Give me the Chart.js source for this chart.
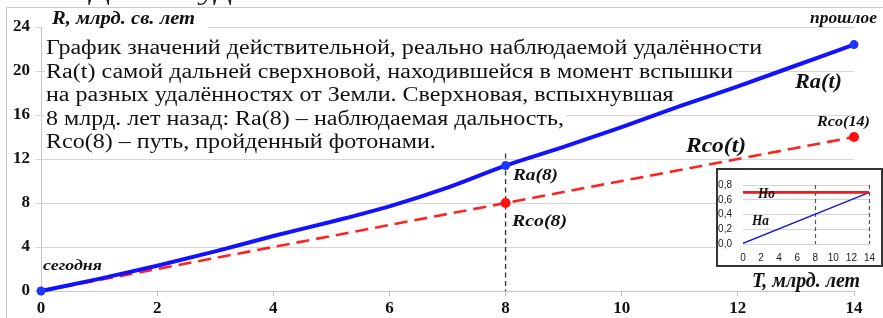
<!DOCTYPE html>
<html><head><meta charset="utf-8">
<script src="https://cdn.jsdelivr.net/npm/chart.js@4.4.1/dist/chart.umd.min.js"></script>
<style>
html,body{margin:0;padding:0;background:#fff;overflow:hidden}
#wrap{position:relative;width:883px;height:318px}
#main{position:absolute;left:0;top:0}
#inset{position:absolute;left:716px;top:168px}
</style></head><body>
<div id="wrap"><canvas id="main" width="883" height="318"></canvas><canvas id="inset" width="167" height="99"></canvas></div>
<script>
// ---- data ----
const years = [0,1,2,3,4,5,6,7,8,9,10,11,12,13,14];
const raValues = [0,1.1,2.3,3.6,5.0,6.3,7.7,9.4,11.4,13.1,14.9,16.8,18.6,20.5,22.4];
const rcoValues = [0,1,2,3,4,5,6,7,8,9,10,11,12,13,14];
const raMarkedYears = [0,8,14];
const rcoMarkedYears = [8,14];
const flashYear = 8;
const xTickValues = [0,2,4,6,8,10,12,14];
const yTickValues = [0,4,8,12,16,20,24];
const insetT = [0,14];
const insetHo = [0.7,0.7];
const insetHa = [0.01,0.7];
const insetXTicks = [0,2,4,6,8,10,12,14];
const insetYTicks = [0,0.2,0.4,0.6,0.8];
const insetDashedYears = [8,14];
const descriptionLines = [
  "График значений действительной, реально наблюдаемой удалённости",
  "Ra(t) самой дальней сверхновой, находившейся в момент вспышки",
  "на разных удалённостях от Земли. Сверхновая, вспыхнувшая",
  "8 млрд. лет назад: Ra(8) – наблюдаемая дальность,",
  "Rco(8) – путь, пройденный фотонами."
];

const serif = '"Liberation Serif","Times New Roman",serif';
const sans = '"Liberation Sans","Open Sans",sans-serif';
const ink = '#111';

function fitText(ctx, str, x, y, font, w, color) {
  ctx.save();
  ctx.font = font; ctx.fillStyle = color || ink;
  ctx.textAlign = 'left'; ctx.textBaseline = 'alphabetic';
  const m = ctx.measureText(str).width;
  ctx.translate(x, y);
  if (w) ctx.scale(w / m, 1);
  ctx.fillText(str, 0, 0);
  ctx.restore();
}

const mainDecor = {
  id: 'mainDecor',
  beforeDraw(chart) {
    const ctx = chart.ctx;
    ctx.save();
    ctx.fillStyle = '#fff';
    ctx.fillRect(0, 0, chart.width, chart.height);
    ctx.strokeStyle = '#c9c9c9'; ctx.lineWidth = 1;
    ctx.beginPath();
    ctx.moveTo(6.5, 318); ctx.lineTo(6.5, 7.5); ctx.lineTo(883, 7.5);
    ctx.stroke();
    ctx.restore();
    // cropped text fragments at the very top (line above the picture)
    fitText(ctx, 'Д', 88, 0, '26px ' + serif, 22, '#222');
    fitText(ctx, 'уд', 197, 0, '26px ' + serif, 35, '#222');
  },
  beforeDatasetsDraw(chart) {
    const ctx = chart.ctx;
    const xs = chart.scales.x, ys = chart.scales.y;
    ctx.save();
    ctx.font = '20px ' + serif;
    const k = 716 / ctx.measureText(descriptionLines[0]).width;
    descriptionLines.forEach((line, i) => {
      const base = 54 + i * 23.5;
      const w = ctx.measureText(line).width * k;
      ctx.fillStyle = '#fff';
      ctx.fillRect(45, base - 16, w + 3, 22);
      ctx.save(); ctx.translate(46, base); ctx.scale(k, 1);
      ctx.fillStyle = ink; ctx.fillText(line, 0, 0); ctx.restore();
    });
    ctx.fillStyle = '#fff';
    ctx.fillRect(43, 12, 165, 17);
    ctx.restore();
    fitText(ctx, 'R, млрд. св. лет', 52, 24, 'bold italic 18px ' + serif, 143);
    const xp = xs.getPixelForValue(flashYear);
    ctx.save();
    ctx.strokeStyle = '#3a3a3a'; ctx.lineWidth = 1.4; ctx.setLineDash([5, 3.5]);
    ctx.beginPath();
    ctx.moveTo(xp, ys.getPixelForValue(12.5)); ctx.lineTo(xp, ys.getPixelForValue(0));
    ctx.stroke();
    ctx.restore();
  },
  afterDatasetsDraw(chart) {
    const ctx = chart.ctx;
    fitText(ctx, 'прошлое', 810, 23, 'bold italic 17px ' + serif, 67);
    fitText(ctx, 'Ra(t)', 795, 88, 'bold italic 22px ' + serif, 47);
    fitText(ctx, 'Rco(14)', 817, 126, 'bold italic 15px ' + serif, 53);
    fitText(ctx, 'Rco(t)', 686, 152, 'bold italic 22px ' + serif, 60);
    fitText(ctx, 'Ra(8)', 513, 180, 'bold italic 17px ' + serif, 45);
    fitText(ctx, 'Rco(8)', 512, 226, 'bold italic 17px ' + serif, 55);
    fitText(ctx, 'сегодня', 43, 270, 'bold italic 15px ' + serif, 59);
    fitText(ctx, 'T, млрд. лет', 752, 287, 'bold italic 21px ' + serif, 108);
  }
};

new Chart(document.getElementById('main'), {
  type: 'line',
  data: {
    datasets: [
      {
        label: 'Ra(t)',
        data: years.map((t, i) => ({ x: t, y: raValues[i] })),
        borderColor: '#1212ff', borderWidth: 4,
        cubicInterpolationMode: 'monotone', clip: false,
        pointRadius: c => raMarkedYears.includes(years[c.dataIndex]) ? 4.5 : 0,
        pointBackgroundColor: '#1a38ff', pointBorderWidth: 0, pointHoverRadius: 0
      },
      {
        label: 'Rco(t)',
        data: years.map((t, i) => ({ x: t, y: rcoValues[i] })),
        borderColor: '#ff2222', borderWidth: 2.6, borderDash: [13, 7], clip: false,
        pointRadius: c => rcoMarkedYears.includes(years[c.dataIndex]) ? 5 : 0,
        pointBackgroundColor: '#ff0f0f', pointBorderWidth: 0, pointHoverRadius: 0
      }
    ]
  },
  options: {
    responsive: false, animation: false, devicePixelRatio: 1,
    layout: { padding: { top: 27, right: 29, left: 0, bottom: 0 } },
    plugins: { legend: { display: false }, tooltip: { enabled: false } },
    scales: {
      x: {
        type: 'linear', min: 0, max: 14,
        afterBuildTicks: s => { s.ticks = xTickValues.map(v => ({ value: v })); },
        afterFit: s => { s.height = 27; },
        ticks: { font: { family: serif, size: 17, weight: 'bold' }, color: ink, padding: 2, autoSkip: false, maxRotation: 0 },
        grid: { drawOnChartArea: false, drawTicks: true, tickLength: 5, color: '#bdbdbd' },
        border: { color: '#c4c4c4', width: 1 }
      },
      y: {
        type: 'linear', min: 0, max: 24,
        afterBuildTicks: s => { s.ticks = yTickValues.map(v => ({ value: v })); },
        afterFit: s => { s.width = 41; },
        ticks: { font: { family: serif, size: 17, weight: 'bold' }, color: ink, padding: 5, autoSkip: false },
        grid: { color: '#d6d6d6', tickLength: 6, lineWidth: 1 },
        border: { color: '#c8c8c8', width: 1 }
      }
    }
  },
  plugins: [mainDecor]
});

const insetDecor = {
  id: 'insetDecor',
  beforeDraw(chart) {
    const ctx = chart.ctx;
    ctx.save(); ctx.fillStyle = '#fff'; ctx.fillRect(0, 0, chart.width, chart.height); ctx.restore();
  },
  beforeDatasetsDraw(chart) {
    const ctx = chart.ctx, xs = chart.scales.x, ys = chart.scales.y;
    ctx.save();
    ctx.strokeStyle = '#555'; ctx.lineWidth = 1.2; ctx.setLineDash([4, 3]);
    insetDashedYears.forEach(t => {
      const xp = Math.round(xs.getPixelForValue(t)) + 0.5;
      ctx.beginPath(); ctx.moveTo(xp, ys.getPixelForValue(0.8)); ctx.lineTo(xp, ys.getPixelForValue(0)); ctx.stroke();
    });
    ctx.restore();
  },
  afterDraw(chart) {
    const ctx = chart.ctx;
    fitText(ctx, 'Ho', 42, 30, 'bold italic 14px ' + serif, 17);
    fitText(ctx, 'Ha', 36, 57, 'bold italic 14px ' + serif, 17);
    ctx.save();
    ctx.strokeStyle = '#333'; ctx.lineWidth = 2;
    ctx.strokeRect(1, 1, chart.width - 2, chart.height - 2);
    ctx.restore();
  }
};

new Chart(document.getElementById('inset'), {
  type: 'line',
  data: {
    datasets: [
      { data: insetT.map((t, i) => ({ x: t, y: insetHo[i] })), borderColor: '#e61e1e', borderWidth: 2.6, pointRadius: 0 },
      { data: insetT.map((t, i) => ({ x: t, y: insetHa[i] })), borderColor: '#1a1ad0', borderWidth: 1.6, pointRadius: 0 }
    ]
  },
  options: {
    responsive: false, animation: false, devicePixelRatio: 1,
    layout: { padding: { left: 0, right: 9, top: 7, bottom: 0 } },
    plugins: { legend: { display: false }, tooltip: { enabled: false } },
    scales: {
      x: {
        type: 'linear', min: 0, max: 14,
        afterBuildTicks: s => { s.ticks = insetXTicks.map(v => ({ value: v })); },
        afterFit: s => { s.height = 23; },
        ticks: { font: { family: sans, size: 10 }, color: '#1a1a1a', padding: 8, autoSkip: false, maxRotation: 0 },
        grid: { display: false, drawTicks: false },
        border: { display: false }
      },
      y: {
        type: 'linear', min: 0, max: 0.8,
        afterBuildTicks: s => { s.ticks = insetYTicks.map(v => ({ value: v })); },
        afterFit: s => { s.width = 27; },
        ticks: { font: { family: sans, size: 10 }, color: '#1a1a1a', padding: 11, autoSkip: false,
          callback: v => Number(v).toFixed(1).replace('.', ',') },
        grid: { color: '#d4d4d4', drawTicks: false },
        border: { display: false }
      }
    }
  },
  plugins: [insetDecor]
});
</script>
</body></html>
